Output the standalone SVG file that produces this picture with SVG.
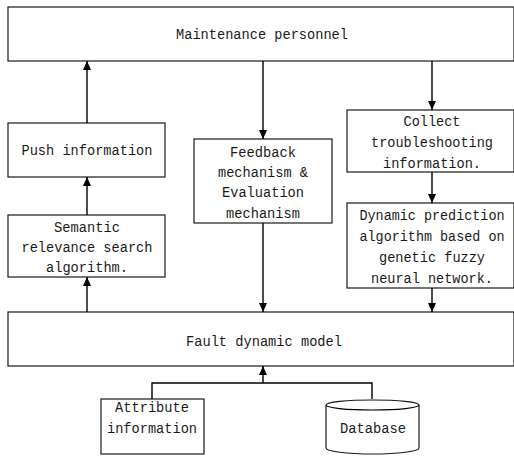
<svg xmlns="http://www.w3.org/2000/svg" width="514" height="456" viewBox="0 0 514 456">
  <style>
    .box { fill: #ffffff; stroke: #1a1a1a; stroke-width: 1.2; }
    .lbl { font-family: "Liberation Mono", "DejaVu Sans Mono", monospace; font-size: 14.5px; fill: #1a1a1a; text-anchor: middle; }
    .wire { fill: none; stroke: #000000; stroke-width: 1.4; }
    .arrow { marker-end: url(#head); }
  </style>
  <defs>
    <marker id="head" markerUnits="userSpaceOnUse" markerWidth="10" markerHeight="9" refX="9" refY="4" orient="auto">
      <path d="M0,0 L9,4 L0,8 z" fill="#000000"/>
    </marker>
  </defs>

  <rect x="0" y="0" width="514" height="456" fill="#ffffff"/>

  <g id="maintenance">
    <rect class="box" x="8" y="7" width="506" height="54"/>
    <text class="lbl" x="262" y="39" textLength="172" lengthAdjust="spacingAndGlyphs">Maintenance personnel</text>
  </g>

  <g id="push">
    <rect class="box" x="8" y="123" width="157" height="54"/>
    <text class="lbl" x="87" y="155" textLength="131" lengthAdjust="spacingAndGlyphs">Push information</text>
  </g>

  <g id="semantic">
    <rect class="box" x="8" y="215" width="157" height="62"/>
    <text class="lbl" x="87" y="232" textLength="66" lengthAdjust="spacingAndGlyphs">Semantic</text>
    <text class="lbl" x="87" y="252" textLength="131" lengthAdjust="spacingAndGlyphs">relevance search</text>
    <text class="lbl" x="87" y="272" textLength="82" lengthAdjust="spacingAndGlyphs">algorithm.</text>
  </g>

  <g id="feedback">
    <rect class="box" x="194" y="139" width="138" height="84"/>
    <text class="lbl" x="263" y="157" textLength="66" lengthAdjust="spacingAndGlyphs">Feedback</text>
    <text class="lbl" x="263" y="177" textLength="90" lengthAdjust="spacingAndGlyphs">mechanism &amp;</text>
    <text class="lbl" x="263" y="197" textLength="82" lengthAdjust="spacingAndGlyphs">Evaluation</text>
    <text class="lbl" x="263" y="218" textLength="74" lengthAdjust="spacingAndGlyphs">mechanism</text>
  </g>

  <g id="collect">
    <rect class="box" x="347" y="110" width="167" height="62"/>
    <text class="lbl" x="432" y="126" textLength="57" lengthAdjust="spacingAndGlyphs">Collect</text>
    <text class="lbl" x="432" y="147" textLength="122" lengthAdjust="spacingAndGlyphs">troubleshooting</text>
    <text class="lbl" x="432" y="168" textLength="98" lengthAdjust="spacingAndGlyphs">information.</text>
  </g>

  <g id="dynamic">
    <rect class="box" x="347" y="203" width="167" height="85"/>
    <text class="lbl" x="432" y="220" textLength="145" lengthAdjust="spacingAndGlyphs">Dynamic prediction</text>
    <text class="lbl" x="432" y="241" textLength="145" lengthAdjust="spacingAndGlyphs">algorithm based on</text>
    <text class="lbl" x="432" y="262" textLength="106" lengthAdjust="spacingAndGlyphs">genetic fuzzy</text>
    <text class="lbl" x="432" y="283" textLength="122" lengthAdjust="spacingAndGlyphs">neural network.</text>
  </g>

  <g id="fault">
    <rect class="box" x="8" y="312" width="506" height="54"/>
    <text class="lbl" x="264" y="346" textLength="156" lengthAdjust="spacingAndGlyphs">Fault dynamic model</text>
  </g>

  <g id="attribute">
    <rect class="box" x="101" y="399" width="103" height="55"/>
    <text class="lbl" x="152" y="412" textLength="74" lengthAdjust="spacingAndGlyphs">Attribute</text>
    <text class="lbl" x="152" y="433" textLength="90" lengthAdjust="spacingAndGlyphs">information</text>
  </g>

  <g id="database">
    <path class="box" d="M326,405 A46.5,5 0 0 1 419,405 V448 A46.5,6 0 0 1 326,448 Z"/>
    <path class="wire" style="stroke-width:1.2" d="M326,405 A46.5,5 0 0 0 419,405"/>
    <text class="lbl" x="373" y="433" textLength="66" lengthAdjust="spacingAndGlyphs">Database</text>
  </g>

  <g id="connectors">
    <line class="wire arrow" x1="87" y1="312" x2="87" y2="277"/>
    <line class="wire arrow" x1="87" y1="215" x2="87" y2="177"/>
    <line class="wire arrow" x1="87" y1="123" x2="87" y2="61"/>
    <line class="wire arrow" x1="263" y1="61" x2="263" y2="139"/>
    <line class="wire arrow" x1="263" y1="223" x2="263" y2="312"/>
    <line class="wire arrow" x1="432" y1="61" x2="432" y2="110"/>
    <line class="wire arrow" x1="432" y1="172" x2="432" y2="203"/>
    <line class="wire arrow" x1="432" y1="288" x2="432" y2="312"/>
    <polyline class="wire" points="152,399 152,383 372,383 372,399"/>
    <line class="wire arrow" x1="263" y1="383" x2="263" y2="366"/>
  </g>
</svg>
